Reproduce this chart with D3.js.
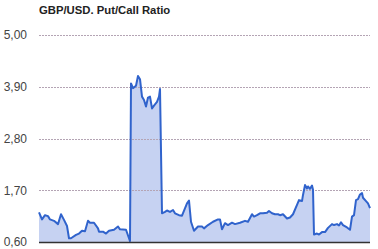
<!DOCTYPE html>
<html>
<head>
<meta charset="utf-8">
<script src="https://cdn.jsdelivr.net/npm/d3@7"></script>
<style>
  body { margin: 0; background: #fff; }
  svg text { font-family: "Liberation Sans", Arial, sans-serif; }
</style>
</head>
<body>
<svg id="canvas"></svg>
<script>
/***********************************************************************/
// Data

var chartTitle = 'GBP/USD. Put/Call Ratio';
var tickValues = [0.60, 1.70, 2.80, 3.90, 5.00];
var tickLabels = ['0,60', '1,70', '2,80', '3,90', '5,00'];

// time position along the axis (0 .. 331)
var days = [0, 3, 6, 9, 11, 15, 19, 22, 25, 28, 30, 32, 37, 40, 43, 46, 49, 51, 55, 59, 60, 64, 67, 70, 75, 79, 81, 87, 90, 91,
  92, 94, 97, 99, 101, 103, 105, 107, 109, 111, 113, 115, 118, 120, 121,
  123, 126, 128, 131, 134, 136, 140, 143, 148, 150, 152, 155, 159, 163, 165, 169, 174, 179, 181, 183, 186, 189, 193, 196, 201, 206, 209, 213,
  215, 218, 221, 224, 228, 230, 233, 236, 239, 241, 244, 248, 251, 254, 258, 260, 263, 264, 266, 268, 269, 271, 273, 274,
  275, 278, 280, 283, 286, 289, 293, 295, 298, 300, 302, 304, 308, 311, 313, 315, 317, 319, 321, 323, 324, 327, 329, 331];

var ratio = [1.23, 1.08, 1.17, 1.15, 1.08, 1.05, 0.98, 1.19, 1.07, 0.94, 0.68, 0.68, 0.75, 0.78, 0.84, 0.83, 1.05, 1.01, 1.01, 0.89, 0.82, 0.82, 0.78, 0.84, 0.86, 0.93, 0.87, 0.86, 0.68, 0.62,
  3.97, 3.87, 3.92, 4.13, 4.06, 3.69, 3.62, 3.48, 3.67, 3.69, 3.44, 3.50, 3.58, 3.69, 3.85,
  1.21, 1.24, 1.27, 1.24, 1.28, 1.21, 1.17, 1.16, 1.42, 1.48, 1.03, 0.84, 0.93, 0.93, 0.89, 0.96, 1.03, 1.08, 1.08, 0.87, 1.00, 0.96, 1.01, 0.98, 1.01, 1.05, 1.03, 1.19,
  1.14, 1.17, 1.21, 1.21, 1.22, 1.26, 1.21, 1.19, 1.19, 1.17, 1.19, 1.10, 1.12, 1.19, 1.39, 1.49, 1.47, 1.60, 1.81, 1.74, 1.78, 1.73, 1.80, 1.71,
  0.76, 0.78, 0.76, 0.81, 0.81, 0.90, 0.98, 0.96, 0.98, 0.95, 1.02, 0.96, 0.91, 0.86, 1.14, 1.17, 1.49, 1.51, 1.61, 1.64, 1.54, 1.47, 1.42, 1.32];

/***********************************************************************/
// Layout

var svgWidth = 378, svgHeight = 249;
var plotLeft = 39, plotRight = 370, plotTop = 35, plotBottom = 242;

var svg = d3.select('#canvas').attr('width', svgWidth).attr('height', svgHeight);

var xScale = d3.scaleLinear().domain([0, 331]).range([plotLeft, plotRight]);
var yScale = d3.scaleLinear().domain([0.60, 5.00]).range([plotBottom, plotTop]);

var points = days.map((d, i) => { return { day: d, value: ratio[i] } });

/***********************************************************************/
// Area + grid + line

var areaGen = d3.area()
  .x(d => xScale(d.day))
  .y0(yScale(0.60))
  .y1(d => yScale(d.value));

svg.append('path')
  .attr('d', areaGen(points))
  .style('fill', '#bccaf0')
  .style('fill-opacity', 0.85)
  .style('stroke', 'none');

svg.append('g').selectAll('line')
  .data(tickValues.slice(1))
  .enter().append('line')
  .attr('x1', plotLeft).attr('x2', plotRight)
  .attr('y1', d => Math.round(yScale(d)) + 0.5)
  .attr('y2', d => Math.round(yScale(d)) + 0.5)
  .attr('stroke', '#b4a4b4')
  .attr('stroke-dasharray', '2,1');

var lineGen = d3.line()
  .x(d => xScale(d.day))
  .y(d => yScale(d.value));

svg.append('path')
  .attr('d', lineGen(points))
  .style('fill', 'none')
  .style('stroke', '#3063cc')
  .style('stroke-width', 2)
  .style('stroke-linejoin', 'round');

// baseline
svg.append('line')
  .attr('x1', plotLeft).attr('x2', plotRight)
  .attr('y1', yScale(0.60) + 0.5).attr('y2', yScale(0.60) + 0.5)
  .attr('stroke', '#333')
  .attr('stroke-width', 1.5);

/***********************************************************************/
// Axis labels + title

var yAxis = d3.axisLeft(yScale)
  .tickValues(tickValues)
  .tickFormat((d, i) => tickLabels[i])
  .tickSize(0)
  .tickPadding(12);

var axisG = svg.append('g')
  .attr('transform', 'translate(' + plotLeft + ',0)')
  .call(yAxis);
axisG.select('.domain').remove();
axisG.selectAll('text')
  .attr('fill', '#444')
  .style('font-size', '12px');

svg.append('text')
  .attr('x', plotLeft)
  .attr('y', 14)
  .attr('fill', '#222')
  .style('font-size', '11.3px')
  .style('font-weight', 'bold')
  .text(chartTitle);
</script>
</body>
</html>
